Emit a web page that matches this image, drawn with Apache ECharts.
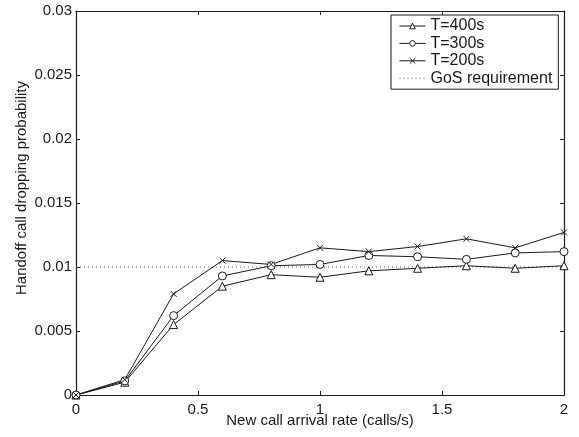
<!DOCTYPE html>
<html>
<head>
<meta charset="utf-8">
<script src="https://cdn.jsdelivr.net/npm/echarts@6/dist/echarts.min.js"></script>
<style>
  html, body { margin: 0; padding: 0; background: #fff; }
  #chart { width: 579px; height: 437px; }
</style>
</head>
<body>
<div id="chart"></div>
<script>
// New call arrival rate (calls/s)
const arrivalRate = [0, 0.2, 0.4, 0.6, 0.8, 1.0, 1.2, 1.4, 1.6, 1.8, 2.0];

// Handoff call dropping probability for each timeout T
const dropT400 = [0, 0.0010, 0.0055, 0.0085, 0.0094, 0.0092, 0.0097, 0.0099, 0.0101, 0.0099, 0.0101];
const dropT300 = [0, 0.0011, 0.0062, 0.0093, 0.0101, 0.0102, 0.0109, 0.0108, 0.0106, 0.0111, 0.0112];
const dropT200 = [0, 0.0012, 0.0079, 0.0105, 0.0102, 0.0115, 0.0112, 0.0116, 0.0122, 0.0115, 0.0127];

// Grade-of-service requirement level
const gosLevel = 0.01;

const seriesNames = ['T=400s', 'T=300s', 'T=200s', 'GoS requirement'];
const xTickLabels = ['0', '0.5', '1', '1.5', '2'];
const yTickLabels = ['0', '0.005', '0.01', '0.015', '0.02', '0.025', '0.03'];

const FONT = 'Liberation Sans, Arial, Helvetica, sans-serif';
const INK = '#1a1a1a';

const pairs = ys => arrivalRate.map((x, i) => [x, ys[i]]);

const baseAxis = {
  type: 'value',
  axisLine: { show: true, onZero: false, lineStyle: { color: INK, width: 1.2 } },
  axisTick: { show: true, inside: true, length: 4, lineStyle: { color: INK, width: 1 } },
  splitLine: { show: false }
};

const xAxisMain = Object.assign({}, baseAxis, {
  min: 0, max: 2, interval: 0.5, position: 'bottom',
  axisLabel: {
    color: INK, fontFamily: FONT, fontSize: 15, margin: 7,
    formatter: v => xTickLabels[Math.round(v / 0.5)]
  },
  name: 'New call arrival rate (calls/s)',
  nameLocation: 'middle', nameGap: 18, nameMoveOverlap: false,
  nameTextStyle: { color: INK, fontFamily: FONT, fontSize: 15 }
});
const xAxisTop = Object.assign({}, baseAxis, {
  min: 0, max: 2, interval: 0.5, position: 'top', axisLabel: { show: false }
});
const yAxisMain = Object.assign({}, baseAxis, {
  min: 0, max: 0.03, interval: 0.005, position: 'left',
  axisLabel: {
    color: INK, fontFamily: FONT, fontSize: 15, margin: 4,
    formatter: v => yTickLabels[Math.round(v / 0.005)]
  },
  name: 'Handoff call dropping probability',
  nameLocation: 'middle', nameGap: 47, nameRotate: 90, nameMoveOverlap: false,
  nameTextStyle: { color: INK, fontFamily: FONT, fontSize: 15, padding: [0, 0, 0, 30] }
});
const yAxisRight = Object.assign({}, baseAxis, {
  min: 0, max: 0.03, interval: 0.005, position: 'right', axisLabel: { show: false }
});

// hollow markers: white fill, thin dark outline
const markStyle = { color: '#fff', borderColor: INK, borderWidth: 1 };

function dataSeries(name, ys, symbol, size) {
  return {
    name, type: 'line', data: pairs(ys),
    symbol, symbolSize: size, showSymbol: true,
    lineStyle: { color: INK, width: 1 },
    itemStyle: markStyle,
    emphasis: { disabled: true },
    animation: false, z: 3
  };
}

const keyLine = { color: INK, width: 1 };

const chart = echarts.init(document.getElementById('chart'), null, { renderer: 'canvas' });
chart.setOption({
  backgroundColor: '#fff',
  animation: false,
  grid: {
    left: 76, top: 11, width: 488, height: 384,
    containLabel: false, outerBoundsMode: 'none'
  },
  xAxis: [xAxisMain, xAxisTop],
  yAxis: [yAxisMain, yAxisRight],
  legend: {
    data: [
      { name: seriesNames[0], itemStyle: markStyle, lineStyle: keyLine },
      { name: seriesNames[1], itemStyle: markStyle, lineStyle: keyLine },
      { name: seriesNames[2], itemStyle: markStyle, lineStyle: keyLine },
      { name: seriesNames[3], itemStyle: { opacity: 0 }, lineStyle: { color: '#666', width: 1, type: [1, 3] } }
    ],
    orient: 'vertical',
    left: 391, top: 15,
    padding: [3, 6, 3, 8],
    itemGap: 1.4, itemWidth: 26, itemHeight: 7,
    backgroundColor: '#fff',
    borderColor: INK, borderWidth: 1,
    textStyle: { color: INK, fontFamily: FONT, fontSize: 16, lineHeight: 16 },
    selectedMode: false
  },
  series: [
    dataSeries(seriesNames[0], dropT400, 'triangle', 8),
    dataSeries(seriesNames[1], dropT300, 'circle', 8),
    dataSeries(seriesNames[2], dropT200, 'path://M0,0L10,10M0,10L10,0', 6),
    {
      name: seriesNames[3], type: 'line',
      data: [[0, gosLevel], [2, gosLevel]],
      symbol: 'none', showSymbol: false,
      lineStyle: { color: '#666', width: 1, type: [1, 3] },
      itemStyle: { color: '#666' },
      emphasis: { disabled: true },
      animation: false, z: 2
    }
  ]
});
</script>
</body>
</html>
